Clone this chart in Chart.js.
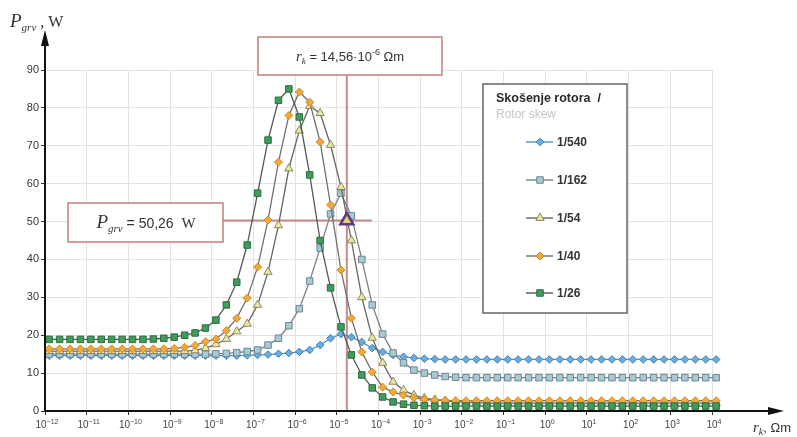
<!DOCTYPE html>
<html>
<head>
<meta charset="utf-8">
<script src="https://cdn.jsdelivr.net/npm/chart.js@4.4.0/dist/chart.umd.min.js"></script>
<style>
    html, body { margin: 0; padding: 0; background: #fff; }
    #wrap { width: 797px; height: 437px; }
</style>
</head>
<body>
<div id="wrap"><canvas id="chart" width="797" height="437"></canvas></div>
<script>
// log10 of r_k for each measured point
const exponents = [
    -11.9, -11.65, -11.4, -11.15, -10.9, -10.65, -10.4, -10.15, -9.9, -9.65,
    -9.4, -9.15, -8.9, -8.65, -8.4, -8.15, -7.9, -7.65, -7.4, -7.15,
    -6.9, -6.65, -6.4, -6.15, -5.9, -5.65, -5.4, -5.15, -4.9, -4.65,
    -4.4, -4.15, -3.9, -3.65, -3.4, -3.15, -2.9, -2.65, -2.4, -2.15,
    -1.9, -1.65, -1.4, -1.15, -0.9, -0.65, -0.4, -0.15, 0.1, 0.35,
    0.6, 0.85, 1.1, 1.35, 1.6, 1.85, 2.1, 2.35, 2.6, 2.85,
    3.1, 3.35, 3.6, 3.85, 4.1
];
const decadeTicks = [-12, -11, -10, -9, -8, -7, -6, -5, -4, -3, -2, -1, 0, 1, 2, 3, 4];
const yTicks = [0, 10, 20, 30, 40, 50, 60, 70, 80, 90];

const skewNames = ['1/540', '1/162', '1/54', '1/40', '1/26'];

const p540 = [
    14.6, 14.6, 14.6, 14.6, 14.6, 14.6, 14.6, 14.6, 14.6, 14.6,
    14.6, 14.6, 14.6, 14.6, 14.6, 14.6, 14.6, 14.6, 14.6, 14.7,
    14.8, 14.9, 15.1, 15.3, 15.6, 16.1, 17.4, 19.2, 20.3, 19.5,
    18.2, 16.6, 15.6, 14.8, 14.3, 14.0, 13.8, 13.7, 13.6, 13.6,
    13.6, 13.6, 13.6, 13.6, 13.6, 13.6, 13.6, 13.6, 13.6, 13.6,
    13.6, 13.6, 13.6, 13.6, 13.6, 13.6, 13.6, 13.6, 13.6, 13.6,
    13.6, 13.6, 13.6, 13.6, 13.6
];
const p162 = [
    15.0, 15.0, 15.0, 15.0, 15.0, 15.0, 15.0, 15.0, 15.0, 15.0,
    15.0, 15.0, 15.0, 15.0, 15.0, 15.0, 15.1, 15.2, 15.4, 15.7,
    16.1, 17.4, 19.2, 22.5, 27.0, 34.3, 43.0, 52.0, 57.5, 51.5,
    40.0, 28.0, 20.3, 15.3, 12.7, 10.8, 10.0, 9.5, 9.1, 8.9,
    8.8, 8.8, 8.8, 8.8, 8.8, 8.8, 8.8, 8.8, 8.8, 8.8,
    8.8, 8.8, 8.8, 8.8, 8.8, 8.8, 8.8, 8.8, 8.8, 8.8,
    8.8, 8.8, 8.8, 8.8, 8.8
];
const p54 = [
    15.8, 15.8, 15.8, 15.8, 15.8, 15.8, 15.8, 15.8, 15.8, 15.8,
    15.8, 15.8, 15.8, 15.8, 16.0, 16.6, 17.6, 19.0, 21.0, 23.0,
    28.0, 36.7, 49.0, 64.0, 74.0, 80.5, 78.6, 70.2, 59.1, 45.0,
    30.0, 19.3, 12.7, 7.7, 5.5, 4.2, 3.4, 3.0, 2.7, 2.5,
    2.3, 2.2, 2.1, 2.1, 2.1, 2.1, 2.1, 2.1, 2.1, 2.1,
    2.1, 2.1, 2.1, 2.1, 2.1, 2.1, 2.1, 2.1, 2.1, 2.1,
    2.1, 2.1, 2.1, 2.1, 2.1
];
const p40 = [
    16.4, 16.4, 16.4, 16.4, 16.4, 16.4, 16.4, 16.4, 16.4, 16.4,
    16.4, 16.4, 16.5, 16.8, 17.3, 18.3, 19.0, 21.2, 24.5, 29.8,
    38.0, 50.4, 65.7, 78.0, 84.2, 81.5, 71.0, 54.4, 37.2, 24.5,
    15.6, 10.3, 6.3, 5.0, 4.2, 3.5, 3.1, 2.9, 2.8, 2.7,
    2.7, 2.7, 2.7, 2.7, 2.7, 2.7, 2.7, 2.7, 2.7, 2.7,
    2.7, 2.7, 2.7, 2.7, 2.7, 2.7, 2.7, 2.7, 2.7, 2.7,
    2.7, 2.7, 2.7, 2.7, 2.7
];
const p26 = [
    18.9, 18.9, 18.9, 18.9, 18.9, 18.9, 18.9, 18.9, 18.9, 18.9,
    19.0, 19.2, 19.5, 20.0, 20.6, 21.9, 24.0, 28.0, 34.0, 43.8,
    57.5, 71.5, 82.0, 85.0, 77.6, 62.3, 45.0, 32.5, 22.2, 14.8,
    9.5, 6.1, 3.7, 2.4, 1.8, 1.5, 1.4, 1.3, 1.3, 1.3,
    1.3, 1.3, 1.3, 1.3, 1.3, 1.3, 1.3, 1.3, 1.3, 1.3,
    1.3, 1.3, 1.3, 1.3, 1.3, 1.3, 1.3, 1.3, 1.3, 1.3,
    1.3, 1.3, 1.3, 1.3, 1.3
];

// highlighted point (1/54 curve)
const markExp = -4.76;
const markValue = 50.26;

const SANS = '"Liberation Sans", Arial, sans-serif';
const SERIF = '"Liberation Serif", "Times New Roman", serif';

const styles = [
    { line: '#4f8fc9', fill: '#6aaee0', border: '#3f7fb9', shape: 'rectRot', r: 3.8 },
    { line: '#75828a', fill: '#a9c9d5', border: '#6a8793', shape: 'rect', r: 4.6 },
    { line: '#66665e', fill: '#ece6a4', border: '#8a8862', shape: 'triangle', r: 4.8 },
    { line: '#707070', fill: '#f2a93a', border: '#d08a20', shape: 'rectRot', r: 4.0 },
    { line: '#505a54', fill: '#3f9c5c', border: '#2b6d3f', shape: 'rect', r: 4.6 }
];
const seriesValues = [p540, p162, p54, p40, p26];

function toPoints(values) {
    return values.map((v, i) => ({ x: Math.pow(10, exponents[i]), y: v }));
}

// draws a row of text pieces with their own fonts; align 'left' or 'center'
function drawRuns(ctx, runs, x, y, align) {
    let total = 0;
    runs.forEach(r => { ctx.font = r.font; total += ctx.measureText(r.t).width; });
    let cx = align === 'center' ? x - total / 2 : x;
    ctx.textBaseline = 'alphabetic';
    ctx.textAlign = 'left';
    runs.forEach(r => {
        ctx.font = r.font;
        ctx.fillStyle = r.color || '#333';
        ctx.fillText(r.t, cx, y + (r.dy || 0));
        cx += ctx.measureText(r.t).width;
    });
}

const decorPlugin = {
    id: 'decor',
    beforeDatasetsDraw(chart) {
        const ctx = chart.ctx;
        const xs = chart.scales.x, ys = chart.scales.y;
        const mx = xs.getPixelForValue(Math.pow(10, markExp));
        const my = ys.getPixelForValue(markValue);
        ctx.save();
        ctx.strokeStyle = 'rgba(185, 120, 115, 0.85)';
        ctx.lineWidth = 2;
        ctx.beginPath();
        ctx.moveTo(mx, 75);
        ctx.lineTo(mx, ys.bottom);
        ctx.moveTo(223, my);
        ctx.lineTo(mx + 25, my);
        ctx.stroke();
        ctx.restore();
    },
    afterDraw(chart) {
        const ctx = chart.ctx;
        const area = chart.chartArea;
        const xs = chart.scales.x;
        ctx.save();

        // x tick labels: 10 with a raised exponent
        decadeTicks.forEach(e => {
            const px = xs.getPixelForValue(Math.pow(10, e));
            drawRuns(ctx, [
                { t: '10', font: '10px ' + SANS, color: '#444' },
                { t: String(e).replace('-', '−'), font: '7px ' + SANS, color: '#444', dy: -4 }
            ], px + 2, area.bottom + 17, 'center');
        });

        // axes with arrows
        ctx.strokeStyle = '#111';
        ctx.fillStyle = '#111';
        ctx.lineWidth = 2;
        ctx.beginPath();
        ctx.moveTo(area.left, area.bottom);
        ctx.lineTo(776, area.bottom);
        ctx.moveTo(area.left, area.bottom);
        ctx.lineTo(area.left, 40);
        ctx.stroke();
        ctx.beginPath();
        ctx.moveTo(784, area.bottom);
        ctx.lineTo(768, area.bottom - 4);
        ctx.lineTo(768, area.bottom + 4);
        ctx.closePath();
        ctx.fill();
        ctx.beginPath();
        ctx.moveTo(area.left, 30);
        ctx.lineTo(area.left - 4, 46);
        ctx.lineTo(area.left + 4, 46);
        ctx.closePath();
        ctx.fill();

        // axis titles
        drawRuns(ctx, [
            { t: 'P', font: 'italic 19px ' + SERIF },
            { t: 'grv', font: 'italic 11px ' + SERIF, dy: 4 },
            { t: ' , W', font: '16px ' + SERIF }
        ], 10, 27, 'left');
        drawRuns(ctx, [
            { t: 'r', font: 'italic 15px ' + SERIF },
            { t: 'k', font: 'italic 10px ' + SERIF, dy: 3 },
            { t: ', Ωm', font: '13px ' + SANS }
        ], 753, 432, 'left');

        // annotation boxes
        ctx.fillStyle = '#fff';
        ctx.strokeStyle = '#c27f7c';
        ctx.lineWidth = 1.5;
        ctx.fillRect(258, 37, 184, 38);
        ctx.strokeRect(258, 37, 184, 38);
        ctx.fillRect(68, 203, 155, 39);
        ctx.strokeRect(68, 203, 155, 39);
        drawRuns(ctx, [
            { t: 'r', font: 'italic 15px ' + SERIF },
            { t: 'k', font: 'italic 9px ' + SERIF, dy: 3 },
            { t: ' = 14,56·10', font: '13px ' + SANS },
            { t: '-6', font: '9px ' + SANS, dy: -6 },
            { t: ' Ωm', font: '13px ' + SANS }
        ], 350, 61, 'center');
        drawRuns(ctx, [
            { t: 'P', font: 'italic 19px ' + SERIF },
            { t: 'grv', font: 'italic 11px ' + SERIF, dy: 4 },
            { t: ' = 50,26  ', font: '14px ' + SANS },
            { t: 'W', font: '15px ' + SERIF }
        ], 146, 228, 'center');

        // legend
        ctx.fillStyle = '#fff';
        ctx.strokeStyle = '#666';
        ctx.lineWidth = 1.5;
        ctx.fillRect(483, 84, 144, 229);
        ctx.strokeRect(483, 84, 144, 229);
        drawRuns(ctx, [{ t: 'Skošenje rotora  /', font: 'bold 12.5px ' + SANS, color: '#2a2a2a' }], 496, 102, 'left');
        drawRuns(ctx, [{ t: 'Rotor skew', font: '12px ' + SANS, color: '#c4c4c4' }], 496, 118, 'left');
        const rows = [142, 180, 218, 256, 293];
        skewNames.forEach((name, i) => {
            const st = styles[i];
            const y = rows[i];
            ctx.strokeStyle = st.line;
            ctx.lineWidth = 1.4;
            ctx.beginPath();
            ctx.moveTo(526, y);
            ctx.lineTo(553, y);
            ctx.stroke();
            ctx.fillStyle = st.fill;
            ctx.strokeStyle = st.border;
            ctx.lineWidth = 1;
            Chart.helpers.drawPoint(ctx, { pointStyle: st.shape, radius: st.r, rotation: 0, borderWidth: 1 }, 540, y);
            drawRuns(ctx, [{ t: name, font: 'bold 12px ' + SANS, color: '#333' }], 557, y + 4, 'left');
        });
        ctx.restore();
    }
};

const datasets = skewNames.map((name, i) => ({
    label: name,
    data: toPoints(seriesValues[i]),
    borderColor: styles[i].line,
    borderWidth: 1.3,
    backgroundColor: styles[i].fill,
    pointBackgroundColor: styles[i].fill,
    pointBorderColor: styles[i].border,
    pointBorderWidth: 1,
    pointStyle: styles[i].shape,
    pointRadius: styles[i].r,
    tension: 0,
    clip: false,
    order: 5 - i
}));
datasets.push({
    label: 'mark',
    data: [{ x: Math.pow(10, markExp), y: markValue }],
    showLine: false,
    pointStyle: 'triangle',
    pointRadius: 7.5,
    pointBackgroundColor: '#e3d26a',
    pointBorderColor: '#5b3a82',
    pointBorderWidth: 2.5,
    order: 0
});

new Chart(document.getElementById('chart'), {
    type: 'line',
    data: { datasets: datasets },
    options: {
        responsive: false,
        animation: false,
        devicePixelRatio: 1,
        layout: { padding: { top: 70, right: 85, left: 0, bottom: 0 } },
        plugins: { legend: { display: false }, tooltip: { enabled: false } },
        scales: {
            x: {
                type: 'logarithmic',
                min: Math.pow(10, decadeTicks[0]),
                max: Math.pow(10, decadeTicks[decadeTicks.length - 1]),
                afterBuildTicks: axis => {
                    axis.ticks = decadeTicks.map(e => ({ value: Math.pow(10, e) }));
                },
                afterFit: scale => { scale.height = 26; },
                border: { display: false },
                grid: { color: '#e2e2e2', tickColor: '#333', tickLength: 4, lineWidth: 1 },
                // labels are drawn by the decor plugin with raised exponents
                ticks: { autoSkip: false, maxRotation: 0, display: false }
            },
            y: {
                min: yTicks[0],
                max: yTicks[yTicks.length - 1],
                afterBuildTicks: axis => {
                    axis.ticks = yTicks.map(v => ({ value: v }));
                },
                afterFit: scale => { scale.width = 45; },
                border: { display: false },
                grid: { color: '#e2e2e2', tickColor: '#333', tickLength: 4, lineWidth: 1 },
                ticks: {
                    padding: 2,
                    color: '#333',
                    font: { family: SANS, size: 11 }
                }
            }
        }
    },
    plugins: [decorPlugin]
});
</script>
</body>
</html>
